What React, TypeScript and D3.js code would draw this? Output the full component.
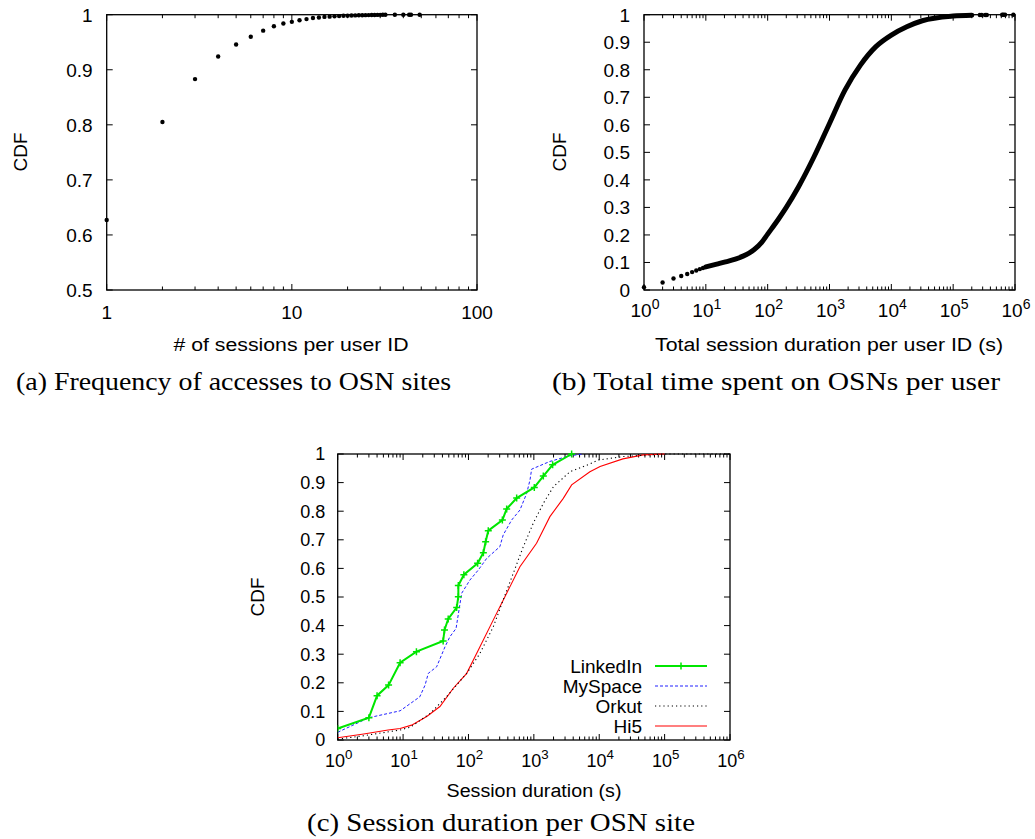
import React from 'react';
import * as d3 from 'd3';

const SANS = '"Liberation Sans", Arial, Helvetica, sans-serif';
const SERIF = '"Liberation Serif", "Times New Roman", serif';

// ---------- (a) Frequency of accesses ----------
const sessionCounts = [1, 2, 3, 4, 5, 6, 7, 8, 9, 10, 11, 12, 13, 14, 15, 16, 17, 18, 19, 20, 21, 22, 23, 24, 25, 26, 27, 28, 29, 30, 31, 32, 36, 40, 43, 44, 49];
const sessionCdf = [0.627, 0.805, 0.883, 0.924, 0.946, 0.960, 0.971, 0.979, 0.984, 0.987, 0.990, 0.992, 0.994, 0.995, 0.996, 0.9965, 0.997, 0.9975, 0.998, 0.9983, 0.9985, 0.9987, 0.9989, 0.999, 0.9992, 0.9993, 0.9994, 0.9995, 0.9996, 0.9997, 0.9998, 0.9998, 0.9999, 0.9999, 0.9999, 0.9999, 1.0];
const aYTicks = [0.5, 0.6, 0.7, 0.8, 0.9, 1];
const aXTickLabels = ['1', '10', '100'];

// ---------- (b) Total time per user ----------
const totalDotX = [1, 2, 3, 4, 5, 6, 7, 8, 9];
const totalDotCdf = [0.01, 0.027, 0.042, 0.051, 0.058, 0.065, 0.071, 0.076, 0.080];
const totalCurveX = [10, 15, 20, 30, 40, 50, 60, 80, 100, 150, 200, 316, 562, 1000, 1778, 3162, 5623, 10000, 17783, 31623, 100000, 200000];
const totalCurveCdf = [0.084, 0.094, 0.101, 0.112, 0.123, 0.134, 0.146, 0.173, 0.203, 0.258, 0.30, 0.375, 0.484, 0.605, 0.726, 0.817, 0.884, 0.926, 0.956, 0.978, 0.995, 0.998];
const totalTailX = [270000, 290000, 330000, 350000, 620000, 650000, 690000, 940000];
const totalTailCdf = [0.999, 0.999, 0.999, 0.999, 1, 1, 1, 1];

// ---------- (c) Session duration per site ----------
const linkedInX = [1, 3, 4, 6, 9, 16, 41, 43, 49, 66, 70, 70, 85, 138, 169, 183, 201, 330, 384, 546, 1016, 1396, 1938, 3785];
const linkedInCdf = [0.04, 0.078, 0.155, 0.192, 0.27, 0.309, 0.346, 0.385, 0.423, 0.463, 0.501, 0.54, 0.578, 0.618, 0.655, 0.693, 0.732, 0.769, 0.808, 0.846, 0.883, 0.923, 0.962, 1.0];
const mySpaceX = [1, 3, 9, 18, 21.7, 24.3, 32.6, 43.8, 52, 64.6, 78.7, 105, 141, 190, 302, 340, 457, 612, 776, 873, 925, 1762, 3560, 5700];
const mySpaceCdf = [0.027, 0.078, 0.102, 0.151, 0.192, 0.233, 0.256, 0.326, 0.361, 0.39, 0.513, 0.559, 0.594, 0.635, 0.676, 0.717, 0.769, 0.804, 0.862, 0.909, 0.947, 0.974, 0.994, 1.0];
const orkutX = [1, 2.5, 9, 13, 26, 46, 94, 150, 240, 340, 485, 690, 980, 1400, 2000, 3560, 7200, 9700, 23000, 100000, 1000000];
const orkutCdf = [0.003, 0.015, 0.035, 0.045, 0.093, 0.151, 0.233, 0.303, 0.396, 0.49, 0.583, 0.676, 0.758, 0.828, 0.886, 0.938, 0.965, 0.979, 0.991, 1.0, 1.0];
const hi5X = [1, 2.5, 5.9, 9, 13.5, 23, 36.6, 58.6, 94, 150, 240, 384, 612, 1100, 1760, 2820, 3785, 7200, 10300, 23000, 47000, 100000];
const hi5Cdf = [0.008, 0.021, 0.035, 0.04, 0.052, 0.082, 0.117, 0.181, 0.233, 0.326, 0.42, 0.513, 0.606, 0.688, 0.781, 0.845, 0.892, 0.938, 0.956, 0.983, 0.997, 1.0];
const seriesNames = ['LinkedIn', 'MySpace', 'Orkut', 'Hi5'];
const seriesColors = ['#00e600', '#2020ff', '#000000', '#ff0000'];

const cdfTicks = [0, 0.1, 0.2, 0.3, 0.4, 0.5, 0.6, 0.7, 0.8, 0.9, 1];
const decadeExps = [0, 1, 2, 3, 4, 5, 6];

function fmt(v: number) {
  return v === 0 ? '0' : v === 1 ? '1' : d3.format('.1f')(v);
}

type FrameProps = {
  xs: d3.ScaleLogarithmic<number, number>;
  ys: d3.ScaleLinear<number, number>;
  yTicks: number[];
  labelGap: number;
  fontSize: number;
};

function Frame({ xs, ys, yTicks, labelGap, fontSize }: FrameProps) {
  const [x0, x1] = xs.range();
  const [y0, y1] = ys.range(); // y0 bottom, y1 top
  const [d0, d1] = xs.domain();
  const majors: number[] = [];
  const minors: number[] = [];
  for (let e = Math.round(Math.log10(d0)); e <= Math.round(Math.log10(d1)); e++) {
    majors.push(Math.pow(10, e));
    if (e < Math.round(Math.log10(d1))) for (let m = 2; m <= 9; m++) minors.push(m * Math.pow(10, e));
  }
  const MJ = 6;
  const MN = 3.5;
  return (
    <g>
      {majors.map((v, i) => (
        <g key={'M' + i}>
          <line x1={xs(v)} x2={xs(v)} y1={y0} y2={y0 - MJ} stroke="#000" />
          <line x1={xs(v)} x2={xs(v)} y1={y1} y2={y1 + MJ} stroke="#000" />
        </g>
      ))}
      {minors.map((v, i) => (
        <g key={'m' + i}>
          <line x1={xs(v)} x2={xs(v)} y1={y0} y2={y0 - MN} stroke="#000" />
          <line x1={xs(v)} x2={xs(v)} y1={y1} y2={y1 + MN} stroke="#000" />
        </g>
      ))}
      {yTicks.map((v, i) => (
        <g key={'y' + i}>
          <line x1={x0} x2={x0 + MJ} y1={ys(v)} y2={ys(v)} stroke="#000" />
          <line x1={x1} x2={x1 - MJ} y1={ys(v)} y2={ys(v)} stroke="#000" />
          <text x={x0 - labelGap} y={ys(v) + fontSize * 0.36} textAnchor="end" fontSize={fontSize} fontFamily={SANS}>
            {fmt(v)}
          </text>
        </g>
      ))}
      <rect x={x0} y={y1} width={x1 - x0} height={y0 - y1} fill="none" stroke="#000" strokeWidth={1.3} />
    </g>
  );
}

function PowerLabels({ xs, y, fontSize }: { xs: d3.ScaleLogarithmic<number, number>; y: number; fontSize: number }) {
  return (
    <g>
      {decadeExps.map((e) => (
        <text key={e} x={xs(Math.pow(10, e)) + 1} y={y} textAnchor="middle" fontSize={fontSize} fontFamily={SANS}>
          10
          <tspan dy={-8} fontSize={fontSize * 0.74}>{String(e)}</tspan>
        </text>
      ))}
    </g>
  );
}

function PanelA() {
  const xs = d3.scaleLog().domain([1, 100]).range([106.7, 477]);
  const ys = d3.scaleLinear().domain([0.5, 1]).range([290, 14.7]);
  return (
    <g>
      <Frame xs={xs} ys={ys} yTicks={aYTicks} labelGap={14} fontSize={19} />
      {sessionCounts.map((c, i) => (
        <circle key={i} cx={xs(c)} cy={ys(sessionCdf[i])} r={2.2} fill="#000" />
      ))}
      {aXTickLabels.map((t) => (
        <text key={t} x={xs(+t)} y={319} textAnchor="middle" fontSize={19} fontFamily={SANS}>{t}</text>
      ))}
      <text x={291} y={351} textAnchor="middle" fontSize={18} fontFamily={SANS} textLength={235} lengthAdjust="spacingAndGlyphs"># of sessions per user ID</text>
      <text transform="translate(27,152) rotate(-90)" textAnchor="middle" fontSize={19} fontFamily={SANS}>CDF</text>
      <text x={16} y={390} fontSize={26} fontFamily={SERIF} textLength={435} lengthAdjust="spacingAndGlyphs">(a) Frequency of accesses to OSN sites</text>
    </g>
  );
}

function PanelB() {
  const xs = d3.scaleLog().domain([1, 1e6]).range([644, 1015]);
  const ys = d3.scaleLinear().domain([0, 1]).range([290, 14.7]);
  const line = d3.line<number>().x((d) => xs(totalCurveX[d])).y((d) => ys(totalCurveCdf[d])).curve(d3.curveMonotoneX);
  return (
    <g>
      <Frame xs={xs} ys={ys} yTicks={cdfTicks} labelGap={14} fontSize={19} />
      <path d={line(totalCurveX.map((_, i) => i)) || ''} fill="none" stroke="#000" strokeWidth={5} strokeLinecap="round" strokeLinejoin="round" />
      {totalDotX.map((v, i) => (
        <circle key={'d' + i} cx={xs(v)} cy={ys(totalDotCdf[i])} r={2.2} fill="#000" />
      ))}
      {totalTailX.map((v, i) => (
        <circle key={'t' + i} cx={xs(v)} cy={ys(totalTailCdf[i])} r={2.2} fill="#000" />
      ))}
      <PowerLabels xs={xs} y={317} fontSize={19} />
      <text x={829} y={351} textAnchor="middle" fontSize={18} fontFamily={SANS} textLength={348} lengthAdjust="spacingAndGlyphs">Total session duration per user ID (s)</text>
      <text transform="translate(566,152) rotate(-90)" textAnchor="middle" fontSize={19} fontFamily={SANS}>CDF</text>
      <text x={552} y={390} fontSize={26} fontFamily={SERIF} textLength={448} lengthAdjust="spacingAndGlyphs">(b) Total time spent on OSNs per user</text>
    </g>
  );
}

function PanelC() {
  const xs = d3.scaleLog().domain([1, 1e6]).range([337.7, 730]);
  const ys = d3.scaleLinear().domain([0, 1]).range([740, 454]);
  const mk = (X: number[], Y: number[]) =>
    d3.line<number>().x((i) => xs(X[i])).y((i) => ys(Y[i]))(X.map((_, i) => i)) || '';
  const legendY = [666, 686, 706, 726];
  const styles = [
    { w: 2, dash: undefined },
    { w: 1, dash: '3,2' },
    { w: 1.1, dash: '1.2,3' },
    { w: 1.1, dash: undefined },
  ];
  return (
    <g>
      <Frame xs={xs} ys={ys} yTicks={cdfTicks} labelGap={12.5} fontSize={18} />
      <g clipPath="url(#clipC)">
        <path d={mk(hi5X, hi5Cdf)} fill="none" stroke={seriesColors[3]} strokeWidth={styles[3].w} />
        <path d={mk(orkutX, orkutCdf)} fill="none" stroke={seriesColors[2]} strokeWidth={styles[2].w} strokeDasharray={styles[2].dash} />
        <path d={mk(mySpaceX, mySpaceCdf)} fill="none" stroke={seriesColors[1]} strokeWidth={styles[1].w} strokeDasharray={styles[1].dash} />
        <path d={mk(linkedInX, linkedInCdf)} fill="none" stroke={seriesColors[0]} strokeWidth={styles[0].w} />
        {linkedInX.map((v, i) => (
          <path key={i} d={`M${xs(v) - 3.5},${ys(linkedInCdf[i])}h7M${xs(v)},${ys(linkedInCdf[i]) - 3.5}v7`} stroke={seriesColors[0]} strokeWidth={1.5} />
        ))}
      </g>
      {seriesNames.map((n, i) => (
        <g key={n}>
          <text x={642} y={legendY[i] + 7} textAnchor="end" fontSize={19} fontFamily={SANS}>{n}</text>
          <line x1={655} x2={707} y1={legendY[i]} y2={legendY[i]} stroke={seriesColors[i]} strokeWidth={styles[i].w} strokeDasharray={styles[i].dash} />
          {i === 0 && <path d={`M677.5,${legendY[i]}h7M681,${legendY[i] - 3.5}v7`} stroke={seriesColors[0]} strokeWidth={1.5} />}
        </g>
      ))}
      <PowerLabels xs={xs} y={767} fontSize={18} />
      <text x={534} y={797} textAnchor="middle" fontSize={18} fontFamily={SANS} textLength={175} lengthAdjust="spacingAndGlyphs">Session duration (s)</text>
      <text transform="translate(264,597) rotate(-90)" textAnchor="middle" fontSize={19} fontFamily={SANS}>CDF</text>
      <text x={307} y={831} fontSize={26} fontFamily={SERIF} textLength={388} lengthAdjust="spacingAndGlyphs">(c) Session duration per OSN site</text>
    </g>
  );
}

export default function App() {
  return (
    <svg width={1035} height={839} style={{ position: 'absolute', left: 0, top: 0, background: '#fff' }}>
      <defs>
        <clipPath id="clipC">
          <rect x={337.7} y={450} width={392.3} height={292} />
        </clipPath>
      </defs>
      <rect width={1035} height={839} fill="#fff" />
      <PanelA />
      <PanelB />
      <PanelC />
    </svg>
  );
}
